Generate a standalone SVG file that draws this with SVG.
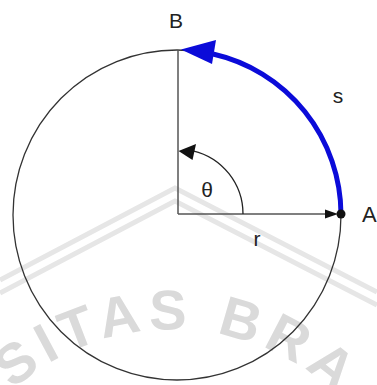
<svg xmlns="http://www.w3.org/2000/svg" width="377" height="385" viewBox="0 0 377 385">
  <style>
    .lbl { font-family: "Liberation Sans", Arial, sans-serif; font-size: 21px; fill: #222; }
    .wm { font-family: "Liberation Sans", Arial, sans-serif; font-size: 56px; font-weight: bold; fill: #dadada; letter-spacing: 7px; }
    .band { fill: none; stroke: #e6e6e6; stroke-width: 5; }
    .axis { stroke: #555; stroke-width: 1.5; fill: none; }
  </style>
  <defs>
    <path id="wmArc" d="M -36.7 450 A 241 241 0 0 1 380.7 450"/>
  </defs>
  <rect width="377" height="385" fill="#fff"/>
  <g id="watermark">
    <polyline class="band" points="0,280 175,188 377,292"/>
    <polyline class="band" points="0,293 175,201 377,305"/>
    <text class="wm"><textPath href="#wmArc" startOffset="78">SITAS BRA</textPath></text>
  </g>
  <g id="circle">
    <ellipse cx="177" cy="215" rx="164" ry="165" fill="none" stroke="#333" stroke-width="1.3"/>
  </g>
  <g id="connectors">
    <line class="axis" x1="178" y1="214" x2="178" y2="50"/>
    <line class="axis" x1="178" y1="214" x2="328" y2="214"/>
    <polygon points="338,214 325,209.5 325,218.5" fill="#111"/>
    <path d="M 243 214 A 65 65 0 0 0 193 150.8" fill="none" stroke="#222" stroke-width="1.3"/>
    <polygon points="178.5,151 196,144 192.5,160" fill="#111"/>
    <path d="M 341 214 A 164 165 0 0 0 213 54" fill="none" stroke="#0b0bd9" stroke-width="5"/>
    <polygon points="181,49.5 216,40 212,64" fill="#0b0bd9"/>
  </g>
  <g id="pointA">
    <circle cx="341" cy="214" r="4.5" fill="#111"/>
  </g>
  <g id="labels">
    <text class="lbl" x="176" y="28" text-anchor="middle">B</text>
    <text class="lbl" x="338" y="103" text-anchor="middle">s</text>
    <text class="lbl" x="207" y="197" text-anchor="middle">θ</text>
    <text class="lbl" x="257" y="246" text-anchor="middle">r</text>
    <text class="lbl" x="362" y="222" style="font-size:22px">A</text>
  </g>
</svg>
